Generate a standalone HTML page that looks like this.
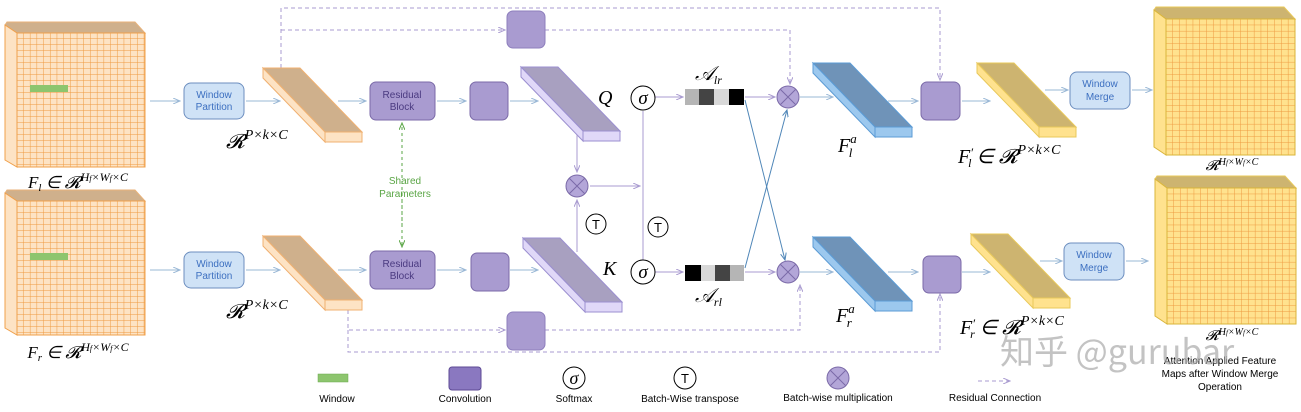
<!DOCTYPE html>
<html><head><meta charset="utf-8"><style>
body{margin:0;background:#fff;width:1301px;height:412px;overflow:hidden}
svg{display:block}
.t{font-family:"Liberation Sans",sans-serif;font-size:10px;text-anchor:middle}
.m{font-family:"Liberation Serif",serif;font-style:italic}
</style></head><body>
<svg width="1301" height="412" viewBox="0 0 1301 412" xmlns="http://www.w3.org/2000/svg">
<defs>
<pattern id="g1" x="17" y="33" width="6.7" height="6" patternUnits="userSpaceOnUse"><rect width="6.7" height="6" fill="#fde3c4"/><path d="M6.7 0V6M0 6H6.7" stroke="#ee9a40" stroke-width="1"/></pattern>
<pattern id="g2" x="1166" y="19" width="6.8" height="6.2" patternUnits="userSpaceOnUse"><rect width="6.8" height="6.2" fill="#ffe28e"/><path d="M6.8 0V6.2M0 6.2H6.8" stroke="#ee9a40" stroke-width="1"/></pattern>
<marker id="a" markerWidth="8" markerHeight="6" refX="7" refY="3" orient="auto"><path d="M0 0L7 3L0 6" fill="none" stroke="#9ab8d6" stroke-width="1"/></marker>
<marker id="ap" markerWidth="8" markerHeight="6" refX="7" refY="3" orient="auto"><path d="M0 0L7 3L0 6" fill="none" stroke="#a99bd0" stroke-width="1"/></marker>
<marker id="ab" markerWidth="8" markerHeight="6" refX="7" refY="3" orient="auto"><path d="M0 0L7 3L0 6" fill="none" stroke="#4f86b8" stroke-width="1"/></marker>
<marker id="ag" markerWidth="8" markerHeight="6" refX="7" refY="3" orient="auto"><path d="M0 0L7 3L0 6" fill="none" stroke="#5aa545" stroke-width="1"/></marker>
</defs>

<g>
<path d="M5 25L7 22H135L145 33H17Z" fill="#cfb08c" stroke="#e8b27a"/>
<path d="M5 25L17 33V167L5 160Z" fill="#fde3c4" stroke="#f0a04b"/>
<rect x="17" y="33" width="128" height="134" fill="url(#g1)" stroke="#f0a04b"/>
<rect x="30" y="85" width="38" height="7" fill="#8dc56e"/>
</g>
<g transform="translate(0,168)">
<path d="M5 25L7 22H135L145 33H17Z" fill="#cfb08c" stroke="#e8b27a"/>
<path d="M5 25L17 33V167L5 160Z" fill="#fde3c4" stroke="#f0a04b"/>
<rect x="17" y="33" width="128" height="134" fill="url(#g1)" stroke="#f0a04b"/>
<rect x="30" y="85" width="38" height="7" fill="#8dc56e"/>
</g>
<text x="78" y="188" class="m" font-size="17" text-anchor="middle">F<tspan font-size="11" dy="3">l</tspan><tspan dy="-3"> ∈ 𝓡</tspan><tspan font-size="12" dy="-7">H<tspan font-size="8">f</tspan>×W<tspan font-size="8">f</tspan>×C</tspan></text>
<text x="78" y="358" class="m" font-size="17" text-anchor="middle">F<tspan font-size="11" dy="3">r</tspan><tspan dy="-3"> ∈ 𝓡</tspan><tspan font-size="12" dy="-7">H<tspan font-size="8">f</tspan>×W<tspan font-size="8">f</tspan>×C</tspan></text>

<g>
<path d="M1154 10L1156 7H1284L1295 19H1166Z" fill="#cdb470" stroke="#e8c85a"/>
<path d="M1154 10L1166 19V155L1154 147Z" fill="#ffe28e" stroke="#d9b53a"/>
<rect x="1166" y="19" width="129" height="136" fill="url(#g2)" stroke="#d9b53a"/>
</g>
<g transform="translate(1,169)">
<path d="M1154 10L1156 7H1284L1295 19H1166Z" fill="#cdb470" stroke="#e8c85a"/>
<path d="M1154 10L1166 19V155L1154 147Z" fill="#ffe28e" stroke="#d9b53a"/>
<rect x="1166" y="19" width="129" height="136" fill="url(#g2)" stroke="#d9b53a"/>
</g>
<text x="1232" y="170" class="m" font-size="14" text-anchor="middle">𝓡<tspan font-size="10" dy="-5">H<tspan font-size="7">f</tspan>×W<tspan font-size="7">f</tspan>×C</tspan></text>
<text x="1232" y="340" class="m" font-size="14" text-anchor="middle">𝓡<tspan font-size="10" dy="-5">H<tspan font-size="7">f</tspan>×W<tspan font-size="7">f</tspan>×C</tspan></text>
<text x="1220" y="364" class="t" font-size="9.5">Attention Applied Feature</text>
<text x="1220" y="377" class="t" font-size="9.5">Maps after Window Merge</text>
<text x="1220" y="390" class="t" font-size="9.5">Operation</text>

<g fill="none" stroke="#a99bd0" stroke-dasharray="4,3">
<path d="M281 68V8H940V80" marker-end="url(#ap)"/>
<path d="M281 30H505" marker-end="url(#ap)"/>
<path d="M545 30H790V84" marker-end="url(#ap)"/>
<path d="M348 310V330H505" marker-end="url(#ap)"/>
<path d="M545 330H800V285" marker-end="url(#ap)"/>
<path d="M348 330V352H940V294" marker-end="url(#ap)"/>
</g>
<path d="M402 226V123" fill="none" stroke="#5aa545" stroke-dasharray="3,3" marker-end="url(#ag)"/>
<path d="M402 200V247" fill="none" stroke="#5aa545" stroke-dasharray="3,3" marker-end="url(#ag)"/>
<text x="405" y="184" class="t" fill="#5aa545" text-anchor="start">Shared</text>
<text x="405" y="197" class="t" fill="#5aa545" text-anchor="start">Parameters</text>

<g stroke="#9ab8d6" fill="none" marker-end="url(#a)">
<path d="M150 101H180"/><path d="M150 270H180"/>
<path d="M246 101H280"/><path d="M246 270H280"/>
<path d="M338 101H366"/><path d="M338 270H366"/>
<path d="M437 101H466"/><path d="M437 270H466"/>
<path d="M510 101H538"/><path d="M510 270H538"/>
<path d="M800 97H833"/><path d="M800 272H833"/>
<path d="M888 101H918"/><path d="M888 272H918"/>
<path d="M962 101H990"/><path d="M962 272H990"/>
<path d="M1045 90H1068"/><path d="M1040 261H1062"/>
<path d="M1132 90H1152"/><path d="M1126 261H1148"/>
</g>

<g font-family="Liberation Sans" font-size="10" fill="#3c6fc0" text-anchor="middle">
<rect x="184" y="83" width="60" height="36" rx="7" fill="#cfe2f6" stroke="#6c8ebf"/>
<text x="214" y="98">Window</text><text x="214" y="110">Partition</text>
<rect x="184" y="252" width="60" height="36" rx="7" fill="#cfe2f6" stroke="#6c8ebf"/>
<text x="214" y="267">Window</text><text x="214" y="279">Partition</text>
<rect x="1070" y="72" width="60" height="37" rx="7" fill="#cfe2f6" stroke="#6c8ebf"/>
<text x="1100" y="87">Window</text><text x="1100" y="100">Merge</text>
<rect x="1064" y="243" width="60" height="37" rx="7" fill="#cfe2f6" stroke="#6c8ebf"/>
<text x="1094" y="258">Window</text><text x="1094" y="271">Merge</text>
</g>

<g>
<path d="M263 68H300L362 132H325Z" fill="#cfb08c" stroke="#f0b070"/>
<path d="M263 68L325 132V142L263 78Z" fill="#fde3c4" stroke="#f0b070"/>
<rect x="325" y="132" width="37" height="10" fill="#fde3c4" stroke="#f0b070"/>
</g>
<g transform="translate(0,168)">
<path d="M263 68H300L362 132H325Z" fill="#cfb08c" stroke="#f0b070"/>
<path d="M263 68L325 132V142L263 78Z" fill="#fde3c4" stroke="#f0b070"/>
<rect x="325" y="132" width="37" height="10" fill="#fde3c4" stroke="#f0b070"/>
</g>
<g transform="translate(258,-1)">
<path d="M263 68H300L362 132H325Z" fill="#a8a0c0" stroke="#9b8fd0"/>
<path d="M263 68L325 132V142L263 78Z" fill="#e0d8f8" stroke="#9b8fd0"/>
<rect x="325" y="132" width="37" height="10" fill="#e0d8f8" stroke="#9b8fd0"/>
</g>
<g transform="translate(260,170)">
<path d="M263 68H300L362 132H325Z" fill="#a8a0c0" stroke="#9b8fd0"/>
<path d="M263 68L325 132V142L263 78Z" fill="#e0d8f8" stroke="#9b8fd0"/>
<rect x="325" y="132" width="37" height="10" fill="#e0d8f8" stroke="#9b8fd0"/>
</g>
<g transform="translate(550,-5)">
<path d="M263 68H300L362 132H325Z" fill="#6f93b8" stroke="#5b9bd5"/>
<path d="M263 68L325 132V142L263 78Z" fill="#9cc8ee" stroke="#5b9bd5"/>
<rect x="325" y="132" width="37" height="10" fill="#9cc8ee" stroke="#5b9bd5"/>
</g>
<g transform="translate(550,169)">
<path d="M263 68H300L362 132H325Z" fill="#6f93b8" stroke="#5b9bd5"/>
<path d="M263 68L325 132V142L263 78Z" fill="#9cc8ee" stroke="#5b9bd5"/>
<rect x="325" y="132" width="37" height="10" fill="#9cc8ee" stroke="#5b9bd5"/>
</g>
<g transform="translate(714,-5)">
<path d="M263 68H300L362 132H325Z" fill="#cdb470" stroke="#e8c85a"/>
<path d="M263 68L325 132V142L263 78Z" fill="#ffe28e" stroke="#e8c85a"/>
<rect x="325" y="132" width="37" height="10" fill="#ffe28e" stroke="#e8c85a"/>
</g>
<g transform="translate(708,166)">
<path d="M263 68H300L362 132H325Z" fill="#cdb470" stroke="#e8c85a"/>
<path d="M263 68L325 132V142L263 78Z" fill="#ffe28e" stroke="#e8c85a"/>
<rect x="325" y="132" width="37" height="10" fill="#ffe28e" stroke="#e8c85a"/>
</g>

<g class="m" font-size="20">
<text x="226" y="148">𝓡<tspan font-size="14" dy="-9">P×k×C</tspan></text>
<text x="226" y="318">𝓡<tspan font-size="14" dy="-9">P×k×C</tspan></text>
<text x="598" y="104">Q</text>
<text x="603" y="275">K</text>
<text x="838" y="152">F<tspan font-size="13" dy="-9">a</tspan><tspan font-size="13" dx="-8" dy="14">l</tspan></text>
<text x="836" y="322">F<tspan font-size="13" dy="-9">a</tspan><tspan font-size="13" dx="-8" dy="14">r</tspan></text>
<text x="958" y="163">F<tspan font-size="13" dy="-6">′</tspan><tspan font-size="12" dx="-5" dy="10">l</tspan><tspan dy="-4"> ∈ 𝓡</tspan><tspan font-size="14" dy="-9">P×k×C</tspan></text>
<text x="960" y="334">F<tspan font-size="13" dy="-6">′</tspan><tspan font-size="12" dx="-5" dy="10">r</tspan><tspan dy="-4"> ∈ 𝓡</tspan><tspan font-size="14" dy="-9">P×k×C</tspan></text>
<text x="695" y="80">𝒜<tspan font-size="12" dy="4">lr</tspan></text>
<text x="695" y="302">𝒜<tspan font-size="12" dy="4">rl</tspan></text>
</g>

<g fill="#a99bd0" stroke="#7b6aa8">
<rect x="370" y="82" width="65" height="38" rx="6"/>
<rect x="370" y="251" width="65" height="38" rx="6"/>
<rect x="470" y="82" width="38" height="38" rx="6"/>
<rect x="471" y="253" width="38" height="38" rx="6"/>
<rect x="507" y="11" width="38" height="37" rx="6" stroke="#8e7fbd"/>
<rect x="507" y="312" width="38" height="38" rx="6" stroke="#8e7fbd"/>
<rect x="921" y="82" width="39" height="38" rx="6"/>
<rect x="923" y="256" width="38" height="37" rx="6"/>
</g>
<g font-family="Liberation Sans" font-size="10" fill="#4a3a80" text-anchor="middle">
<text x="402" y="98">Residual</text><text x="402" y="110">Block</text>
<text x="402" y="267">Residual</text><text x="402" y="279">Block</text>
</g>

<g stroke="#a99bd0" fill="none">
<path d="M577 135V172" marker-end="url(#ap)"/>
<path d="M577 252V200" marker-end="url(#ap)"/>
<path d="M590 186H640" marker-end="url(#ap)"/>
<path d="M643 111V260"/>
<path d="M655 97H683" marker-end="url(#ap)"/>
<path d="M655 272H683" marker-end="url(#ap)"/>
<path d="M745 97H775" marker-end="url(#ap)"/>
<path d="M745 272H775" marker-end="url(#ap)"/>
</g>
<g stroke="#4f86b8" fill="none">
<path d="M745 100L785 260" marker-end="url(#ab)"/>
<path d="M745 268L787 110" marker-end="url(#ab)"/>
</g>
<g fill="#b3a6d8" stroke="#7b6aa8">
<circle cx="577" cy="186" r="11"/><circle cx="788" cy="97" r="11"/><circle cx="788" cy="272" r="11"/>
</g>
<g stroke="#7b6aa8"><path d="M569 178L585 194M585 178L569 194M780 89L796 105M796 89L780 105M780 264L796 280M796 264L780 280"/></g>
<g fill="#fff" stroke="#000">
<circle cx="643" cy="98" r="12"/><circle cx="643" cy="272" r="12"/>
<circle cx="596" cy="224" r="10"/><circle cx="658" cy="227" r="10"/>
</g>
<g class="m" font-size="19" text-anchor="middle"><text x="643" y="104">σ</text><text x="643" y="278">σ</text></g>
<g font-family="Liberation Sans" font-size="13" text-anchor="middle"><text x="596" y="229">T</text><text x="658" y="232">T</text></g>
<rect x="685" y="89" width="14" height="16" fill="#b5b5b5"/><rect x="699" y="89" width="15" height="16" fill="#444"/><rect x="714" y="89" width="15" height="16" fill="#d8d8d8"/><rect x="729" y="89" width="15" height="16" fill="#000"/>
<rect x="685" y="265" width="16" height="16" fill="#000"/><rect x="701" y="265" width="14" height="16" fill="#d8d8d8"/><rect x="715" y="265" width="15" height="16" fill="#444"/><rect x="730" y="265" width="14" height="16" fill="#b5b5b5"/>

<rect x="318" y="374" width="30" height="8" fill="#8dc56e" stroke="#6aa84f" stroke-width="0.5"/>
<text x="337" y="402" class="t">Window</text>
<rect x="449" y="367" width="32" height="23" rx="3" fill="#8a78c0" stroke="#5d4a94"/>
<text x="465" y="402" class="t">Convolution</text>
<circle cx="574" cy="378" r="11" fill="#fff" stroke="#000"/><text x="574" y="384" class="m" font-size="18" text-anchor="middle">σ</text>
<text x="574" y="402" class="t">Softmax</text>
<circle cx="685" cy="378" r="11" fill="#fff" stroke="#000"/><text x="685" y="383" font-family="Liberation Sans" font-size="13" text-anchor="middle">T</text>
<text x="690" y="402" class="t">Batch-Wise transpose</text>
<circle cx="838" cy="378" r="11" fill="#b3a6d8" stroke="#7b6aa8"/><path d="M830 370L846 386M846 370L830 386" stroke="#7b6aa8"/>
<text x="838" y="401" class="t">Batch-wise multiplication</text>
<path d="M978 381H1010" stroke="#a99bd0" stroke-dasharray="4,3" marker-end="url(#ap)"/>
<text x="995" y="401" class="t">Residual Connection</text>
<text x="1000" y="364" font-family="Noto Sans CJK SC,sans-serif" font-size="34" fill="#aaa" opacity="0.7" text-anchor="start">知乎 @gurubar</text>
</svg>
</body></html>
